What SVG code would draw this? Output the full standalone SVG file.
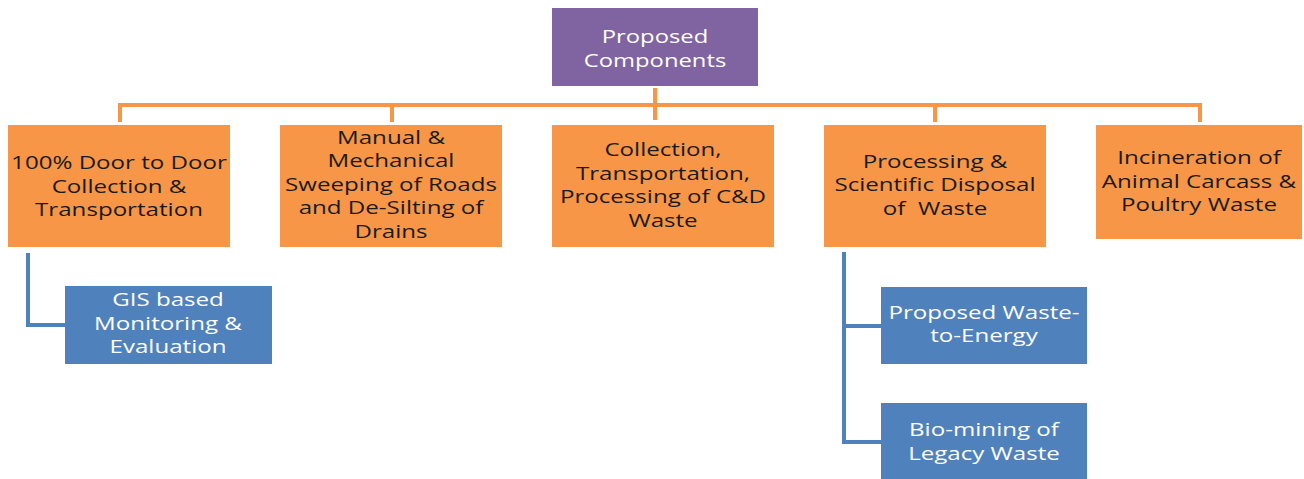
<svg xmlns="http://www.w3.org/2000/svg" width="1304" height="479" viewBox="0 0 1304 479">
<style>
.o{fill:#F79646}
.b{fill:#4F81BD}
.p{fill:#8064A2}
text{font-family:"Open Sans","Noto Sans",sans-serif;font-size:18px;text-anchor:middle}
.dk{fill:#1a1a1a}
.wt{fill:#ffffff}
.lo{stroke:#F79646;stroke-width:4;fill:none}
.lb{stroke:#4F81BD;stroke-width:4;fill:none}
</style>
<rect width="1304" height="479" fill="#ffffff"/>
<g id="connectors">
<path class="lo" d="M655 88V120M120 122V105H1200V122M392 105V122M935 105V122"/>
<path class="lb" d="M28 253V325H65"/>
<path class="lb" d="M844 252V442H881M844 326H881"/>
</g>
<g id="root">
<rect class="p" x="552" y="8" width="206" height="78"/>
<g transform="translate(655 0) scale(1.36 1)">
<text class="wt" x="0" y="43" style="font-size:17.5px">Proposed</text>
<text class="wt" x="0" y="67" style="font-size:17.5px">Components</text>
</g>
</g>
<g id="n1">
<rect class="o" x="8" y="125" width="222" height="122"/>
<g transform="translate(119 0) scale(1.34 1)">
<text class="dk" x="0" y="169">100% Door to Door</text>
<text class="dk" x="0" y="193">Collection &amp;</text>
<text class="dk" x="0" y="216">Transportation</text>
</g>
</g>
<g id="n2">
<rect class="o" x="280" y="125" width="222" height="122"/>
<g transform="translate(391 0) scale(1.34 1)">
<text class="dk" x="0" y="144">Manual &amp;</text>
<text class="dk" x="0" y="167">Mechanical</text>
<text class="dk" x="0" y="191">Sweeping of Roads</text>
<text class="dk" x="0" y="214">and De-Silting of</text>
<text class="dk" x="0" y="238">Drains</text>
</g>
</g>
<g id="n3">
<rect class="o" x="552" y="125" width="222" height="122"/>
<g transform="translate(663 0) scale(1.34 1)">
<text class="dk" x="0" y="156">Collection,</text>
<text class="dk" x="0" y="180">Transportation,</text>
<text class="dk" x="0" y="203">Processing of C&amp;D</text>
<text class="dk" x="0" y="227">Waste</text>
</g>
</g>
<g id="n4">
<rect class="o" x="824" y="125" width="222" height="122"/>
<g transform="translate(935 0) scale(1.34 1)">
<text class="dk" x="0" y="168">Processing &amp;</text>
<text class="dk" x="0" y="191">Scientific Disposal</text>
<text class="dk" x="0" y="215" xml:space="preserve">of  Waste</text>
</g>
</g>
<g id="n5">
<rect class="o" x="1096" y="125" width="206" height="114"/>
<g transform="translate(1199 0) scale(1.34 1)">
<text class="dk" x="0" y="164">Incineration of</text>
<text class="dk" x="0" y="188">Animal Carcass &amp;</text>
<text class="dk" x="0" y="211">Poultry Waste</text>
</g>
</g>
<g id="gis">
<rect class="b" x="65" y="286" width="207" height="78"/>
<g transform="translate(168 0) scale(1.34 1)">
<text class="wt" x="0" y="306">GIS based</text>
<text class="wt" x="0" y="330">Monitoring &amp;</text>
<text class="wt" x="0" y="353">Evaluation</text>
</g>
</g>
<g id="wte">
<rect class="b" x="881" y="287" width="206" height="77"/>
<g transform="translate(984 0) scale(1.34 1)">
<text class="wt" x="0" y="319">Proposed Waste-</text>
<text class="wt" x="0" y="342">to-Energy</text>
</g>
</g>
<g id="bio">
<rect class="b" x="881" y="403" width="206" height="78"/>
<g transform="translate(984 0) scale(1.34 1)">
<text class="wt" x="0" y="436">Bio-mining of</text>
<text class="wt" x="0" y="460">Legacy Waste</text>
</g>
</g>
</svg>
